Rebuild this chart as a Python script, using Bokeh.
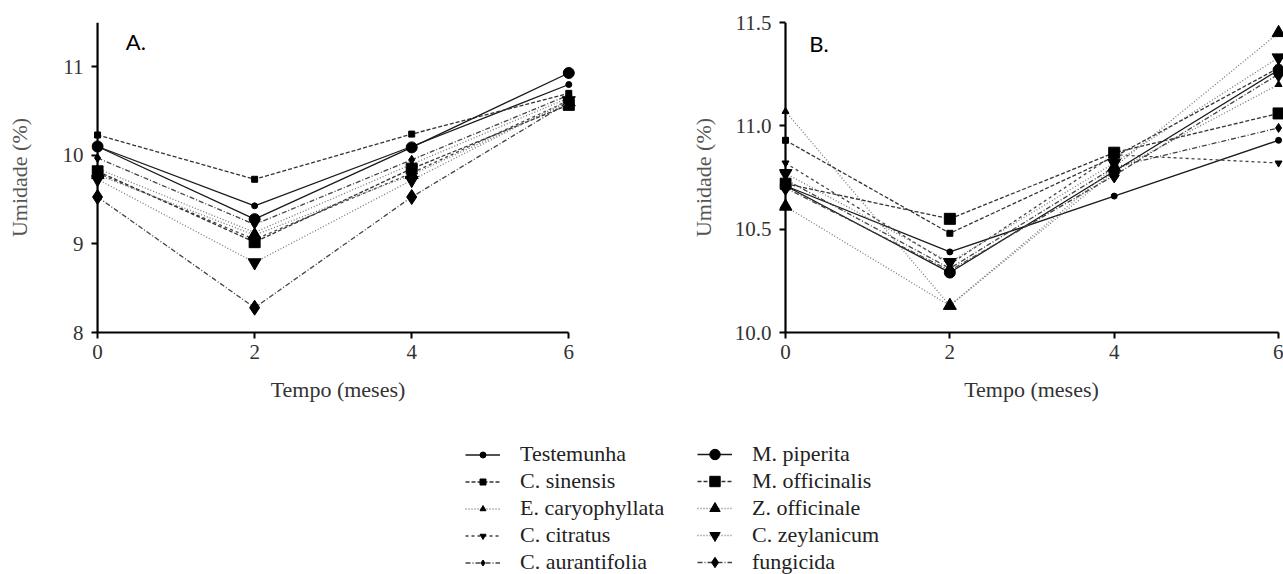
from bokeh.plotting import figure
from bokeh.layouts import column, row
from bokeh.models import Range1d, Legend, LegendItem, Label, FixedTicker, NumeralTickFormatter, Span
from bokeh.embed import file_html
from bokeh.resources import INLINE

# ---------------- data ----------------
months = [0, 2, 4, 6]
series_names = ["Testemunha", "C. sinensis", "E. caryophyllata", "C. citratus", "C. aurantifolia",
                "M. piperita", "M. officinalis", "Z. officinale", "C. zeylanicum", "fungicida"]

# Panel A
a_testemunha = [10.10, 9.43, 10.10, 10.80]
a_c_sinensis = [10.23, 9.73, 10.24, 10.70]
a_e_caryophyllata = [9.85, 9.13, 9.90, 10.65]
a_c_citratus = [9.80, 9.05, 9.80, 10.62]
a_c_aurantifolia = [9.97, 9.22, 9.95, 10.68]
a_m_piperita = [10.10, 9.28, 10.09, 10.93]
a_m_officinalis = [9.82, 9.02, 9.85, 10.57]
a_z_officinale = [9.78, 9.10, 9.78, 10.60]
a_c_zeylanicum = [9.73, 8.79, 9.72, 10.62]
a_fungicida = [9.53, 8.28, 9.53, 10.60]

# Panel B
b_testemunha = [10.71, 10.39, 10.66, 10.93]
b_c_sinensis = [10.93, 10.48, 10.85, 11.28]
b_e_caryophyllata = [11.07, 10.13, 10.78, 11.20]
b_c_citratus = [10.82, 10.33, 10.86, 10.82]
b_c_aurantifolia = [10.74, 10.31, 10.80, 10.99]
b_m_piperita = [10.71, 10.29, 10.78, 11.27]
b_m_officinalis = [10.72, 10.55, 10.87, 11.06]
b_z_officinale = [10.61, 10.13, 10.80, 11.45]
b_c_zeylanicum = [10.77, 10.34, 10.82, 11.33]
b_fungicida = [10.70, 10.30, 10.76, 11.25]

x_ticks = [0, 2, 4, 6]
a_y_ticks = [8, 9, 10, 11]
b_y_ticks = [10.0, 10.5, 11.0, 11.5]

panel_a = [a_testemunha, a_c_sinensis, a_e_caryophyllata, a_c_citratus, a_c_aurantifolia,
           a_m_piperita, a_m_officinalis, a_z_officinale, a_c_zeylanicum, a_fungicida]
panel_b = [b_testemunha, b_c_sinensis, b_e_caryophyllata, b_c_citratus, b_c_aurantifolia,
           b_m_piperita, b_m_officinalis, b_z_officinale, b_c_zeylanicum, b_fungicida]

# ---------------- styles ----------------
styles = [
    dict(dash="solid", marker="circle", size=6, color="#1a1a1a"),
    dict(dash="4 2", marker="square", size=6, color="#333333"),
    dict(dash="1 2", marker="triangle", size=7, color="#777777"),
    dict(dash="3 3", marker="inverted_triangle", size=7, color="#444444"),
    dict(dash="5 2 1 2", marker="diamond", size=9, color="#444444"),
    dict(dash="solid", marker="circle", size=11, color="#1a1a1a"),
    dict(dash="4 2", marker="square", size=11, color="#333333"),
    dict(dash="1 2", marker="triangle", size=13, color="#777777"),
    dict(dash="1 2", marker="inverted_triangle", size=13, color="#777777"),
    dict(dash="5 2 1 2", marker="diamond", size=15, color="#444444"),
]

SERIF = '"Liberation Serif"'


def style_axes(p, y_ticks, ylabel_standoff):
    p.grid.visible = False
    p.outline_line_color = None
    for ax in (p.xaxis[0], p.yaxis[0]):
        ax.axis_line_width = 2.2
        ax.axis_line_color = "black"
        ax.major_tick_line_width = 2
        ax.major_tick_line_color = "black"
        ax.minor_tick_line_color = None
        ax.major_label_text_font = SERIF
        ax.major_label_text_font_size = "21px"
        ax.major_label_text_color = "#333333"
        ax.axis_label_text_font = SERIF
        ax.axis_label_text_font_size = "22px"
        ax.axis_label_text_font_style = "normal"
    xa = p.xaxis[0]
    xa.major_tick_in = 0
    xa.major_tick_out = 6
    xa.major_label_standoff = 6
    xa.ticker = FixedTicker(ticks=x_ticks)
    xa.bounds = (0, 6)
    xa.axis_label = "Tempo (meses)"
    xa.axis_label_text_color = "#333333"
    xa.axis_label_standoff = 15
    ya = p.yaxis[0]
    ya.ticker = FixedTicker(ticks=y_ticks)
    ya.axis_line_color = None
    ya.major_tick_in = 6
    ya.major_tick_out = 0
    ya.major_label_standoff = 8
    ya.axis_label = "Umidade (%)"
    ya.axis_label_text_color = "#555555"
    ya.axis_label_standoff = ylabel_standoff
    p.add_layout(Span(location=0, dimension="height", line_color="black", line_width=2.2))


def draw_series(p, values_list):
    for vals, st in zip(values_list, styles):
        p.line(months, vals, line_color=st["color"], line_width=1.3, line_dash=st["dash"])
        p.scatter(months, vals, marker=st["marker"], size=st["size"],
                  fill_color="black", line_color="black")


# Panel A
pA = figure(width=652, height=431, x_range=Range1d(-0.077, 6.2), y_range=Range1d(8, 11.5),
            output_backend="svg", toolbar_location=None,
            min_border_left=91, min_border_right=68, min_border_top=22, min_border_bottom=92)
draw_series(pA, panel_a)
style_axes(pA, a_y_ticks, 28)
pA.add_layout(Label(x=0.36, y=11.28, text="A.", text_font="Lato", text_font_size="22px",
                    text_baseline="middle", text_align="left", text_color="black"))

# Panel B
pB = figure(width=631, height=431, x_range=Range1d(-0.073, 6.06), y_range=Range1d(10.0, 11.5),
            output_backend="svg", toolbar_location=None,
            min_border_left=127, min_border_right=0, min_border_top=21, min_border_bottom=99)
draw_series(pB, panel_b)
style_axes(pB, b_y_ticks, 16)
pB.yaxis[0].formatter = NumeralTickFormatter(format="0.0")
pB.add_layout(Label(x=0.29, y=11.40, text="B.", text_font="Lato", text_font_size="22px",
                    text_baseline="middle", text_align="left", text_color="black"))

# Legend panel
pL = figure(width=1283, height=143, x_range=Range1d(0, 1), y_range=Range1d(0, 1),
            output_backend="svg", toolbar_location=None, x_axis_type=None, y_axis_type=None,
            min_border=0)
pL.grid.visible = False
pL.outline_line_color = None
items = []
for name, vals, st in zip(series_names, panel_a, styles):
    # data lies outside this panel's ranges; only the legend glyphs are visible
    r1 = pL.line(months, vals, line_color=st["color"], line_width=1.3, line_dash=st["dash"])
    r2 = pL.scatter(months, vals, marker=st["marker"], size=st["size"], fill_color="black", line_color="black")
    items.append(LegendItem(label=name, renderers=[r1, r2]))


def make_legend(its, loc, gh):
    lg = Legend(items=its, location=loc, orientation="vertical")
    lg.label_text_font = SERIF
    lg.label_text_font_size = "22px"
    lg.label_text_color = "#222222"
    lg.glyph_width = 35
    lg.glyph_height = gh
    lg.label_height = 26
    lg.spacing = 1
    lg.label_standoff = 20
    lg.padding = 0
    lg.margin = 0
    lg.border_line_color = None
    lg.background_fill_alpha = 0
    return lg


pL.add_layout(make_legend(items[:5], (465, -1), 15), "center")
pL.add_layout(make_legend(items[5:], (697, -1), 26), "center")

layout = column(row(pA, pB), pL)
open("out.html", "w").write(file_html(layout, INLINE))
